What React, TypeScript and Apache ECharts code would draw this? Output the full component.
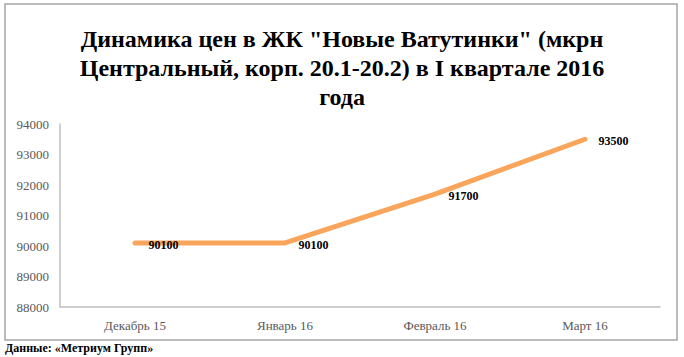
import React, { useEffect, useRef } from "react";
import * as echarts from "echarts";

const titleText = 'Динамика цен в ЖК "Новые Ватутинки" (мкрн\nЦентральный, корп. 20.1-20.2) в I квартале 2016\nгода';
const sourceText = "Данные: «Метриум Групп»";
const categories = ["Декабрь 15", "Январь 16", "Февраль 16", "Март 16"];
const prices = [90100, 90100, 91700, 93500];

export default function App() {
  const ref = useRef<HTMLDivElement>(null);
  useEffect(() => {
    if (!ref.current) return;
    const chart = echarts.init(ref.current, undefined, { renderer: "svg" });
    const font = "'Liberation Serif', 'Times New Roman', serif";
    chart.setOption({
      animation: false,
      backgroundColor: "#ffffff",
      textStyle: { fontFamily: font },
      title: {
        text: titleText,
        left: "center",
        top: 19,
        textStyle: {
          fontFamily: font,
          fontSize: 24,
          fontWeight: "bold",
          color: "#000000",
          lineHeight: 29,
        },
      },
      graphic: [
        {
          type: "rect",
          shape: { x: 5, y: 4, width: 672, height: 336 },
          style: { fill: "none", stroke: "#a6a6a6", lineWidth: 1.5 },
          silent: true,
        },
        {
          type: "text",
          left: 5,
          top: 342,
          style: {
            text: sourceText,
            font: `bold 12px ${font}`,
            fill: "#000000",
          },
        },
      ],
      grid: { left: 60, right: 24, top: 124, bottom: 50, containLabel: false },
      xAxis: {
        type: "category",
        data: categories,
        boundaryGap: true,
        axisLine: { lineStyle: { color: "#bfbfbf", width: 1.5 } },
        axisTick: { show: false },
        axisLabel: { color: "#595959", fontSize: 13, fontFamily: font, margin: 12 },
      },
      yAxis: {
        type: "value",
        min: 88000,
        max: 94000,
        interval: 1000,
        axisLine: { show: true, lineStyle: { color: "#bfbfbf", width: 1.5 } },
        axisTick: { show: false },
        splitLine: { show: false },
        axisLabel: {
          color: "#595959",
          fontSize: 13,
          fontFamily: font,
          margin: 11,
          formatter: (v: number) => String(v),
        },
      },
      series: [
        {
          type: "line",
          data: prices,
          symbol: "circle",
          symbolSize: 1,
          showSymbol: true,
          itemStyle: { color: "#f9a55b" },
          lineStyle: { color: "#f9a55b", width: 5, cap: "round", join: "round" },
          label: {
            show: true,
            position: "right",
            distance: 13,
            offset: [0, 2],
            color: "#000000",
            fontWeight: "bold",
            fontSize: 12,
            fontFamily: font,
          },
        },
      ],
    });
    return () => chart.dispose();
  }, []);
  return (
    <div
      ref={ref}
      style={{ position: "fixed", left: 0, top: 0, width: 684, height: 357 }}
    />
  );
}
